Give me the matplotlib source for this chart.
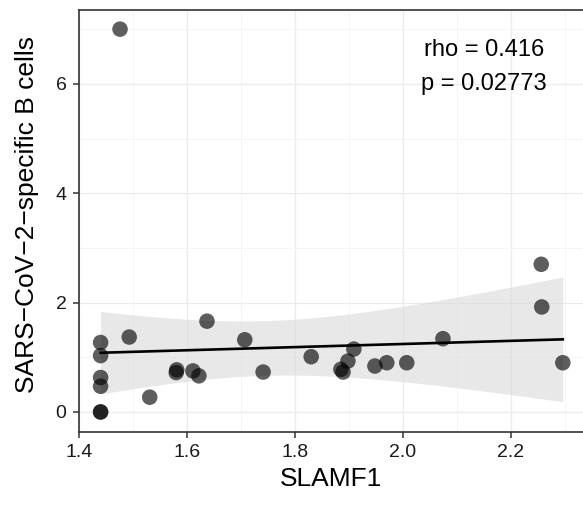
import numpy as np
import matplotlib
matplotlib.use("Agg")
import matplotlib.pyplot as plt

plt.rcParams['font.family'] = ['Liberation Sans', 'DejaVu Sans']

# SLAMF1 vs SARS-CoV-2-specific B cells
slamf1 = [1.476, 1.44, 1.44, 1.44, 1.44, 1.44, 1.44, 1.493, 1.531, 1.580,
          1.581, 1.611, 1.622, 1.637, 1.707, 1.741, 1.830, 1.885, 1.889,
          1.898, 1.909, 1.948, 1.970, 2.007, 2.074, 2.256, 2.257, 2.296]
bcells = [7.00, 1.27, 1.03, 0.63, 0.47, 0.0, 0.0, 1.37, 0.27, 0.72,
          0.77, 0.75, 0.66, 1.66, 1.32, 0.73, 1.01, 0.78, 0.73,
          0.93, 1.15, 0.84, 0.90, 0.90, 1.34, 2.70, 1.92, 0.90]
rho_text = "rho = 0.416"
p_text = "p = 0.02773"

x = np.array(slamf1)
y = np.array(bcells)

# linear fit with 95% confidence band (like geom_smooth(method="lm"))
n = len(x)
slope, icpt = np.polyfit(x, y, 1)
resid = y - (slope * x + icpt)
s = np.sqrt((resid ** 2).sum() / (n - 2))
sxx = ((x - x.mean()) ** 2).sum()
t975 = 2.0555  # t quantile, df = 26
xs = np.linspace(x.min(), x.max(), 100)
fit = slope * xs + icpt
se = s * np.sqrt(1 / n + (xs - x.mean()) ** 2 / sxx)

fig = plt.figure(figsize=(5.83, 5.05), dpi=100)
ax = fig.add_axes([0.1355, 0.1446, 0.866, 0.8356])

ax.scatter(x, y, s=125, color='black', alpha=0.63, edgecolors='none', zorder=3)
ax.fill_between(xs, fit - t975 * se, fit + t975 * se, color='#d9d9d9', alpha=0.6,
                linewidth=0, zorder=2)
ax.plot(xs, fit, color='black', lw=1.9, zorder=4)

ax.text(2.15, 6.62, rho_text, ha='center', va='center', fontsize=17)
ax.text(2.15, 6.00, p_text, ha='center', va='center', fontsize=17)

ax.set_xlim(1.4, 2.335)
ax.set_ylim(-0.366, 7.35)
ax.set_xticks([1.4, 1.6, 1.8, 2.0, 2.2])
ax.set_xticklabels(['1.4', '1.6', '1.8', '2.0', '2.2'])
ax.set_yticks([0, 2, 4, 6])
ax.set_xticks(np.arange(1.5, 2.4, 0.2), minor=True)
ax.set_yticks([1, 3, 5, 7], minor=True)
ax.grid(True, which='major', color='#ebebeb', lw=0.9, zorder=0)
ax.grid(True, which='minor', color='#f4f4f4', lw=0.6, zorder=0)
ax.set_axisbelow(True)

for side in ['left', 'bottom', 'top']:
    ax.spines[side].set_color('#333333')
    ax.spines[side].set_linewidth(1.2)
ax.spines['right'].set_visible(False)
ax.tick_params(which='major', length=4, width=1.1, color='#333333',
               labelsize=14, labelcolor='#1a1a1a', pad=5)
ax.tick_params(which='minor', length=0)

ax.set_xlabel('SLAMF1', fontsize=19, labelpad=4)
ax.set_ylabel('SARS\u2212CoV\u22122\u2212specific B cells', fontsize=19)
ax.yaxis.set_label_coords(-0.08, 0.515)

fig.savefig('out.png', dpi=100)
